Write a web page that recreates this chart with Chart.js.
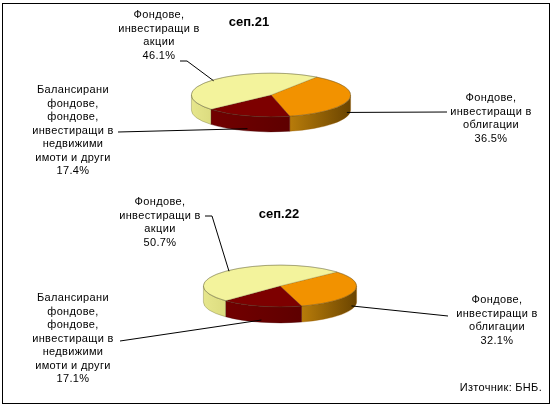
<!DOCTYPE html>
<html><head><meta charset="utf-8">
<script src="https://cdn.jsdelivr.net/npm/chart.js@4.4.1/dist/chart.umd.min.js"></script>
<style>
html,body{margin:0;padding:0;background:#fff;}
#wrap{position:relative;width:554px;height:408px;overflow:hidden;font-family:"Liberation Sans",Arial,sans-serif;color:#000;}
canvas{position:absolute;left:0;top:0;}
.frame{position:absolute;left:2px;top:3px;width:546px;height:399px;border:1px solid #000;}
.lbl{position:absolute;font-size:11px;line-height:13.5px;text-align:center;white-space:nowrap;letter-spacing:0.35px;transform:translateX(-50%);}
.ttl{position:absolute;font-size:13px;font-weight:bold;transform:translate(-50%,-50%);white-space:nowrap;}
.src{position:absolute;font-size:11px;right:12px;top:380px;line-height:14px;letter-spacing:0.3px;white-space:nowrap;}
</style></head>
<body>
<div id="wrap">
  <div class="frame"></div>
  <canvas id="c1" width="554" height="408"></canvas>
  <canvas id="c2" width="554" height="408"></canvas>
</div>
<script>
// ---- data ----
const categories = [
  'Фондове, инвестиращи в облигации',
  'Балансирани фондове, фондове, инвестиращи в недвижими имоти и други',
  'Фондове, инвестиращи в акции'
];
const categoryLines = [
  ['Фондове,', 'инвестиращи в', 'облигации'],
  ['Балансирани', 'фондове,', 'фондове,', 'инвестиращи в', 'недвижими', 'имоти и други'],
  ['Фондове,', 'инвестиращи в', 'акции']
];
const periods = ['сеп.21', 'сеп.22'];
const valuesSep21 = [36.5, 17.4, 46.1];
const valuesSep22 = [32.1, 17.1, 50.7];
const sourceText = 'Източник: БНБ.';

// ---- styles ----
const topColors = ['#F29200', '#7D0000', '#F3F39C'];
const edgeColors = ['rgba(150,90,0,0.6)', 'rgba(70,0,0,0.6)', 'rgba(110,110,60,0.6)'];
const sideColors = [['#B87C0A', '#6A4400'], ['#720000', '#5E0000'], ['#E6E68C', '#DCDC80']];

function visibleFront(s, e) {
  const out = [];
  for (const k of [-2, 0, 2]) {
    const a = Math.max(s, k * Math.PI), b = Math.min(e, k * Math.PI + Math.PI);
    if (b > a) out.push([a, b]);
  }
  return out;
}

function makePie3d(cfg) {
  return {
    id: 'pie3d',
    beforeDatasetsDraw(chart) {
      const ctx = chart.ctx;
      const arcs = chart.getDatasetMeta(0).data;
      const cx = arcs[0].x, cy = arcs[0].y, rx = arcs[0].outerRadius, ry = rx * cfg.ratio, d = cfg.depth;
      arcs.forEach((arc, i) => {
        visibleFront(arc.startAngle, arc.endAngle).forEach(([a, b]) => {
          const x1 = cx + rx * Math.cos(b), x2 = cx + rx * Math.cos(a);
          const g = ctx.createLinearGradient(Math.min(x1, x2), 0, Math.max(x1, x2) + 0.1, 0);
          g.addColorStop(0, sideColors[i][0]);
          g.addColorStop(1, sideColors[i][1]);
          ctx.beginPath();
          ctx.ellipse(cx, cy, rx, ry, 0, a, b, false);
          ctx.ellipse(cx, cy + d, rx, ry, 0, b, a, true);
          ctx.closePath();
          ctx.fillStyle = g;
          ctx.fill();
          ctx.lineWidth = 0.6;
          ctx.strokeStyle = edgeColors[i];
          ctx.stroke();
        });
      });
      ctx.save();
      ctx.translate(cx, cy);
      ctx.scale(1, cfg.ratio);
      ctx.translate(-cx, -cy);
    },
    afterDatasetsDraw(chart) {
      const ctx = chart.ctx;
      ctx.restore();
      const arcs = chart.getDatasetMeta(0).data;
      const cx = arcs[0].x, cy = arcs[0].y, rx = arcs[0].outerRadius, ry = rx * cfg.ratio, d = cfg.depth;
      // thin top outline
      ctx.beginPath();
      ctx.ellipse(cx, cy, rx, ry, 0, 0, Math.PI * 2);
      ctx.lineWidth = 0.6;
      ctx.strokeStyle = 'rgba(90,85,50,0.55)';
      ctx.stroke();
      // leader lines
      ctx.strokeStyle = '#000';
      ctx.lineWidth = 1;
      arcs.forEach((arc, i) => {
        const L = cfg.leaders[i];
        const mid = (arc.startAngle + arc.endAngle) / 2;
        const front = Math.sin(mid) > 0;
        const px = cx + rx * 0.97 * Math.cos(mid);
        const py = cy + ry * 0.97 * Math.sin(mid) + (front ? d * 0.9 : 0);
        ctx.beginPath();
        ctx.moveTo(L.from[0], L.from[1]);
        if (L.stub) ctx.lineTo(L.stub[0], L.stub[1]);
        ctx.lineTo(px, py);
        ctx.stroke();
      });
    }
  };
}

function buildPie(canvasId, values, geo) {
  const W = 554, H = 408;
  new Chart(document.getElementById(canvasId), {
    type: 'pie',
    data: {
      labels: categories,
      datasets: [{ data: values, backgroundColor: topColors, borderColor: edgeColors, borderWidth: 0.8, clip: false }]
    },
    options: {
      responsive: false,
      animation: false,
      events: [],
      rotation: geo.rotation,
      layout: { padding: { left: geo.cx - geo.rx, right: W - geo.cx - geo.rx, top: geo.cy - geo.rx, bottom: H - geo.cy - geo.rx } },
      plugins: { legend: { display: false }, tooltip: { enabled: false } }
    },
    plugins: [makePie3d(geo)]
  });
}

const wrap = document.getElementById('wrap');
function addLabel(lines, x, yFirst) {
  const el = document.createElement('div');
  el.className = 'lbl';
  el.style.left = x + 'px';
  el.style.top = (yFirst - 6.75) + 'px';
  el.innerHTML = lines.map(t => t.replace(/ /g, '&nbsp;')).join('<br>');
  wrap.appendChild(el);
}
function addTitle(text, x, y) {
  const el = document.createElement('div');
  el.className = 'ttl';
  el.style.left = x + 'px';
  el.style.top = y + 'px';
  el.textContent = text;
  wrap.appendChild(el);
}
const pct = v => v.toFixed(1) + '%';

// chart 1
buildPie('c1', valuesSep21, {
  cx: 271, cy: 95, rx: 80, ratio: 0.275, depth: 15, rotation: 35,
  leaders: [
    { from: [447, 112] },
    { from: [118, 132] },
    { from: [180, 61], stub: [187, 61] }
  ]
});
addTitle(periods[0], 249, 21);
addLabel(categoryLines[2].concat([pct(valuesSep21[2])]), 159, 15);
addLabel(categoryLines[1].concat([pct(valuesSep21[1])]), 73, 90);
addLabel(categoryLines[0].concat([pct(valuesSep21[0])]), 491, 98);

// chart 2
buildPie('c2', valuesSep22, {
  cx: 280, cy: 286, rx: 77, ratio: 0.273, depth: 16, rotation: 48,
  leaders: [
    { from: [448, 316] },
    { from: [120, 341] },
    { from: [205, 216], stub: [212, 216] }
  ]
});
addTitle(periods[1], 279, 213);
addLabel(categoryLines[2].concat([pct(valuesSep22[2])]), 160, 202);
addLabel(categoryLines[1].concat([pct(valuesSep22[1])]), 73, 298);
addLabel(categoryLines[0].concat([pct(valuesSep22[0])]), 497, 300);

const src = document.createElement('div');
src.className = 'src';
src.textContent = sourceText;
wrap.appendChild(src);
</script>
</body></html>
